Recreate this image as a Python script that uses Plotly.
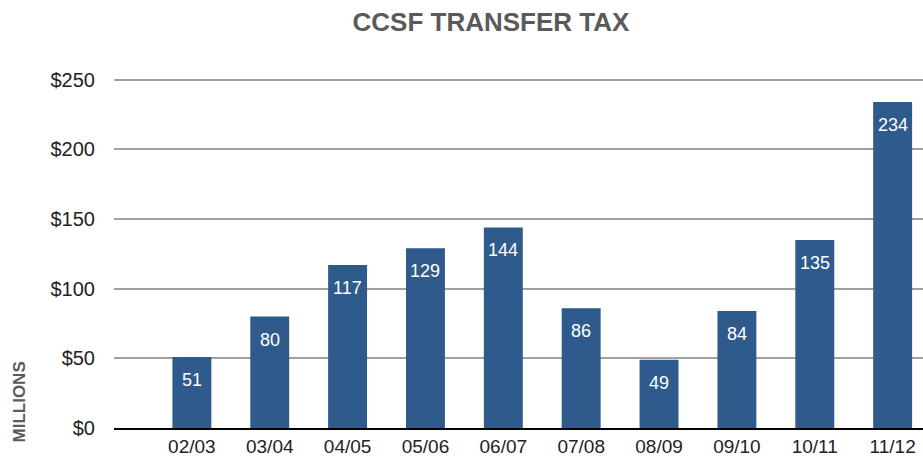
import plotly.graph_objects as go

categories = ["02/03", "03/04", "04/05", "05/06", "06/07", "07/08", "08/09", "09/10", "10/11", "11/12"]
values = [51, 80, 117, 129, 144, 86, 49, 84, 135, 234]
y_ticks = [0, 50, 100, 150, 200, 250]
y_tick_labels = ["$0", "$50", "$100", "$150", "$200", "$250"]

FONT = "Liberation Sans, Arial, Helvetica, sans-serif"
BAR = "#2E5A8C"

W, H = 923, 457
L, R, T, B = 114, 0, 77, 29
PW, PH = W - L - R, H - T - B

fig = go.Figure()
fig.add_trace(go.Bar(
    x=list(range(len(categories))),
    y=values,
    marker=dict(color=BAR, line=dict(width=0)),
    width=0.5,
    hoverinfo="skip",
))

for i, v in enumerate(values):
    fig.add_annotation(
        x=i, y=v, xref="x", yref="y",
        text=str(v), showarrow=False,
        yanchor="middle", yshift=-23,
        font=dict(family=FONT, size=18, color="white"),
    )

fig.add_annotation(
    xref="paper", yref="paper",
    x=(18.5 - L) / PW, y=(H - B - 402) / PH,
    xanchor="center", yanchor="middle",
    text="<b>MILLIONS</b>", textangle=-90, showarrow=False,
    font=dict(family=FONT, size=17, color="#5a5a5a"),
)

fig.update_layout(
    width=W, height=H,
    margin=dict(l=L, r=R, t=T, b=B),
    paper_bgcolor="white", plot_bgcolor="white",
    showlegend=False,
    title=dict(
        text="<b>CCSF TRANSFER TAX</b>",
        x=(491 - L) / PW, xref="paper", xanchor="center",
        y=1 - 22 / H, yanchor="middle",
        font=dict(family=FONT, size=26, color="#5a5a5a"),
    ),
    font=dict(family=FONT),
)

fig.update_xaxes(
    range=[-1.0, 9.39],
    tickmode="array",
    tickvals=list(range(len(categories))),
    ticktext=categories,
    showgrid=False, zeroline=False,
    showline=True, linecolor="black", linewidth=2,
    ticks="", tickfont=dict(family=FONT, size=19, color="#222222"),
    ticklabelstandoff=0,
    automargin=False,
)
fig.update_yaxes(
    range=[0, 252],
    tickmode="array",
    tickvals=y_ticks,
    ticktext=y_tick_labels,
    showgrid=True, gridcolor="#A0A0A0", gridwidth=2,
    zeroline=False, showline=False,
    ticks="", tickfont=dict(family=FONT, size=20, color="#222222"),
    ticklabelstandoff=18,
    automargin=False,
)

fig.write_html(
    "out.html",
    config={"displayModeBar": False},
    post_script="document.body.style.margin='0';document.body.style.overflow='hidden';",
)
